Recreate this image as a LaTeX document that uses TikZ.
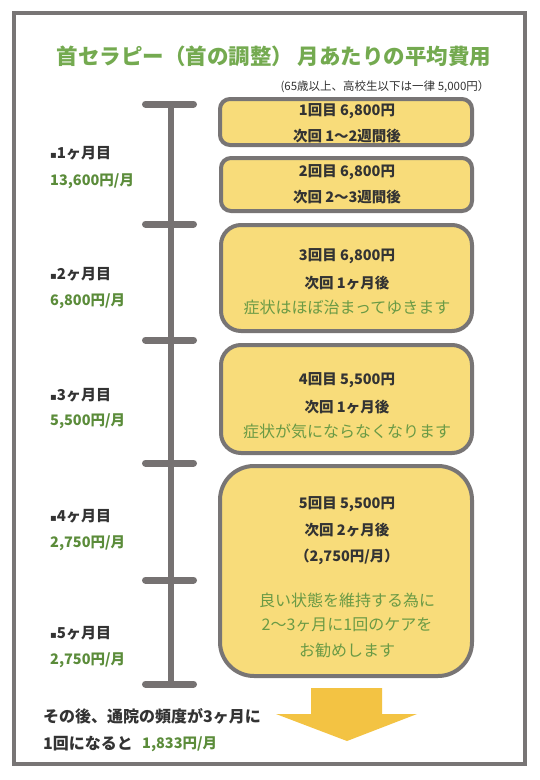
\documentclass[tikz,border=0pt]{standalone}
\usepackage{fontspec}
\setmainfont{Noto Sans CJK JP}
\newfontfamily\dejavu{DejaVu Sans}
\definecolor{framegray}{HTML}{787575}
\definecolor{bargray}{HTML}{767272}
\definecolor{cardyellow}{HTML}{F8DC7A}
\definecolor{arrowyellow}{HTML}{F3C343}
\definecolor{titlegreen}{HTML}{74AA50}
\definecolor{amountgreen}{HTML}{5B8C3A}
\definecolor{notegreen}{HTML}{6A9A45}
\definecolor{darktext}{HTML}{333333}
\newcommand{\fs}[1]{\fontsize{#1}{#1}\selectfont}
\begin{document}
\begin{tikzpicture}[x=1pt,y=-1pt,
  frame/.style={draw=framegray, line width=4pt},
  card/.style={draw=framegray, line width=4pt, fill=cardyellow, inner sep=0pt, rounded corners=#1},
  barline/.style={draw=bargray, line width=6pt},
  tick/.style={draw=bargray, line width=7pt, line cap=round},
  boldtxt/.style={inner sep=0pt, text=darktext, font=\bfseries\fs{14.5}},
  greentxt/.style={inner sep=0pt, text=notegreen, font=\fs{16}},
  monthlbl/.style={inner sep=0pt, anchor=west, text=darktext, font=\bfseries\fs{15}},
  amount/.style={inner sep=0pt, anchor=west, text=amountgreen, font=\bfseries\fs{14.5}},
  bottomtxt/.style={inner sep=0pt, anchor=west, text=darktext, font=\bfseries\fs{16}}
]
\useasboundingbox (0,0) rectangle (540,780);
\fill[white] (0,0) rectangle (540,780);
\draw[frame] (14,13) rectangle (525,764);

% title
\node[inner sep=0pt, text=titlegreen, font=\bfseries\fs{21.5}] (title) at (274,56) {首セラピー（首の調整） 月あたりの平均費用};
\node[inner sep=0pt, text=darktext, font=\fs{11.5}] (sub) at (385,87) {(65歳以上、高校生以下は一律 5,000円）};

% timeline
\coordinate (t0) at (171,104);
\coordinate (t1) at (171,224);
\coordinate (t2) at (171,340);
\coordinate (t3) at (171,463);
\coordinate (t4) at (171,580);
\coordinate (t5) at (171,684);
\draw[barline] (t0) -- (t5);
\foreach \t in {t0,t1,t2,t3,t4,t5}{
  \draw[tick] ([xshift=-25.5pt]\t) -- ([xshift=22.5pt]\t);
}

% cards
\node[card=10pt, minimum width=252pt, minimum height=46pt] (b1) at (346,122) {};
\node[card=10pt, minimum width=251pt, minimum height=53pt] (b2) at (346.5,184.5) {};
\node[card=20pt, minimum width=251pt, minimum height=106pt] (b3) at (346.5,278) {};
\node[card=20pt, minimum width=251pt, minimum height=108pt] (b4) at (346.5,399) {};
\node[card=34pt, minimum width=252pt, minimum height=210pt] (b5) at (346,571) {};

% card texts
\node[boldtxt] (b1a) at (347,111) {1回目 6,800円};
\node[boldtxt] (b1b) at (347,136) {次回 1〜2週間後};
\node[boldtxt] (b2a) at (347,172) {2回目 6,800円};
\node[boldtxt] (b2b) at (347,197) {次回 2〜3週間後};
\node[boldtxt] (b3a) at (347,256) {3回目 6,800円};
\node[boldtxt] (b3b) at (347,283) {次回 1ヶ月後};
\node[greentxt] (b3c) at (347,307) {症状はほぼ治まってゆきます};
\node[boldtxt] (b4a) at (347,380) {4回目 5,500円};
\node[boldtxt] (b4b) at (347,407) {次回 1ヶ月後};
\node[greentxt] (b4c) at (347,431) {症状が気にならなくなります};
\node[boldtxt] (b5a) at (347,504) {5回目 5,500円};
\node[boldtxt] (b5b) at (347,530) {次回 2ヶ月後};
\node[boldtxt] (b5c) at (347,557) {（2,750円/月）};
\node[greentxt] (b5d) at (347,600) {良い状態を維持する為に};
\node[greentxt] (b5e) at (347,625) {2〜3ヶ月に1回のケアを};
\node[greentxt] (b5f) at (347,650) {お勧めします};

% month labels
\node[monthlbl] (m1) at (50,153) {{\dejavu\fs{10}▪}1ヶ月目};
\node[amount] (p1) at (50,181) {13,600円/月};
\node[monthlbl] (m2) at (50,274) {{\dejavu\fs{10}▪}2ヶ月目};
\node[amount] (p2) at (50,301) {6,800円/月};
\node[monthlbl] (m3) at (50,395) {{\dejavu\fs{10}▪}3ヶ月目};
\node[amount] (p3) at (50,421) {5,500円/月};
\node[monthlbl] (m4) at (50,516) {{\dejavu\fs{10}▪}4ヶ月目};
\node[amount] (p4) at (50,543) {2,750円/月};
\node[monthlbl] (m5) at (50,633) {{\dejavu\fs{10}▪}5ヶ月目};
\node[amount] (p5) at (50,660) {2,750円/月};

% arrow
\fill[arrowyellow] (311,688) -- (382,688) -- (382,714) -- (417,714) -- (347,741) -- (276,714) -- (311,714) -- cycle;

% bottom text
\node[bottomtxt] (f1) at (43,716) {その後、通院の頻度が3ヶ月に};
\node[bottomtxt] (f2) at (43,744) {1回になると};
\node[amount] (f3) at (142,744) {1,833円/月};
\end{tikzpicture}
\end{document}
